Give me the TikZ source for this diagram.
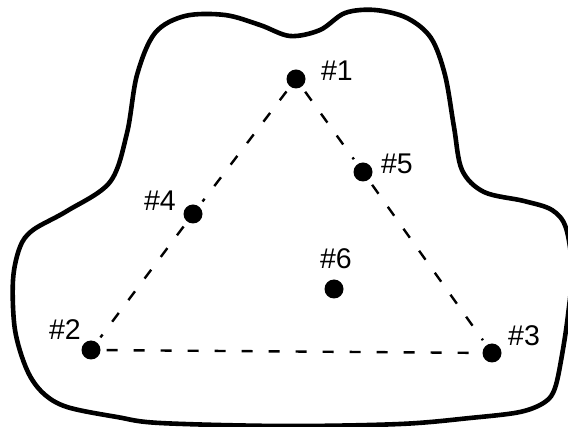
\documentclass[tikz,border=0pt]{standalone}
\usepackage{fontspec}
\setmainfont{Liberation Sans}
\begin{document}
\begin{tikzpicture}[x=1pt,y=-1pt,
  pt/.style={circle,fill=black,inner sep=0pt,minimum size=19pt},
  lbl/.style={font=\fontsize{28.5}{28.5}\selectfont,inner sep=0pt},
  edge/.style={line width=2.4pt,dash pattern=on 11pt off 16pt,shorten >=6pt,shorten <=6pt},
  outline/.style={line width=4.6pt,line join=round}]
\useasboundingbox[fill=white] (0,0) rectangle (568,427);
\draw[outline] plot[smooth cycle,tension=0.55] coordinates {
  (67,211) (110,182) (127,133) (137,75) (155,33) (185,16) (225,15) (260,25)
  (290,36) (320,30) (345,13) (375,10) (407,18) (431,38) (445,75) (454,127)
  (462,170) (484,192) (524,201) (552,210) (566,228) (572,270) (568,315)
  (562,355) (555,388) (545,402) (520,412) (470,418) (400,424) (283,426)
  (160,423) (117,417) (67,407) (43,393) (27,370) (15,330) (13,280) (20,247)
  (33,230)};
\node[pt] (n1) at (296,79) {};
\node[pt] (n2) at (91,350) {};
\node[pt] (n3) at (492,353) {};
\node[pt] (n4) at (193,214) {};
\node[pt] (n5) at (363,172) {};
\node[pt] (n6) at (334,289) {};
\node[lbl] (l1) at (337,71) {\#1};
\node[lbl] (l2) at (65,330) {\#2};
\node[lbl] (l3) at (524,336) {\#3};
\node[lbl] (l4) at (160,201) {\#4};
\node[lbl] (l5) at (397,164) {\#5};
\node[lbl] (l6) at (336,259) {\#6};
\draw[edge] (n1) -- (n4);
\draw[edge] (n4) -- (n2);
\draw[edge] (n1) -- (n5);
\draw[edge] (n5) -- (n3);
\draw[edge] (n2) -- (n3);
\end{tikzpicture}
\end{document}
